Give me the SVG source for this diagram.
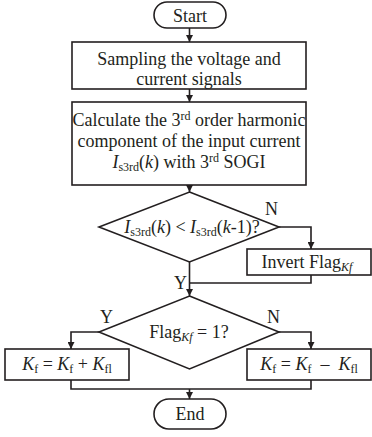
<svg xmlns="http://www.w3.org/2000/svg" width="372" height="437" viewBox="0 0 372 437" font-family="'Liberation Serif', 'Times New Roman', 'DejaVu Serif', serif">
<defs>
<style>
.s{fill:#fff;stroke:#231f20;stroke-width:1.6}
.c{fill:none;stroke:#231f20;stroke-width:1.6}
text{font-family:'Liberation Serif','Times New Roman','DejaVu Serif',serif;font-size:18px;fill:#231f20}
.m{text-anchor:middle}
.sub{font-size:12px}
.i{font-style:italic}
</style>
<marker id="a" viewBox="0 0 10 10" refX="10" refY="5" markerWidth="7" markerHeight="7" markerUnits="userSpaceOnUse" orient="auto"><path d="M0,0 L10,5 L0,10 z" fill="#231f20"/></marker>
</defs>
<rect width="372" height="437" fill="#fff"/>
<g id="connectors">
<path class="c" d="M189.5,28 V42" marker-end="url(#a)"/>
<path class="c" d="M189.5,89 V102" marker-end="url(#a)"/>
<path class="c" d="M189.5,185 V192" marker-end="url(#a)"/>
<path class="c" d="M279,227 H311 V249" marker-end="url(#a)"/>
<path class="c" d="M311,275 V283 H189.5"/>
<path class="c" d="M189.5,262 V296" marker-end="url(#a)"/>
<path class="c" d="M99,332 H71 V349" marker-end="url(#a)"/>
<path class="c" d="M279,332 H311 V349" marker-end="url(#a)"/>
<path class="c" d="M71,380 V389 H311 V380"/>
<path class="c" d="M189.5,389 V399" marker-end="url(#a)"/>
<text x="265" y="215">N</text>
<text x="174" y="289">Y</text>
<text x="100" y="323">Y</text>
<text x="267" y="323">N</text>
</g>
<g id="start">
<rect class="s" x="154" y="2" width="72" height="26" rx="13"/>
<text class="m" x="190" y="22">Start</text>
</g>
<g id="sampling">
<rect class="s" x="72" y="42" width="234" height="47"/>
<text class="m" x="189" y="65">Sampling the voltage and</text>
<text class="m" x="189" y="85">current signals</text>
</g>
<g id="calculate">
<rect class="s" x="72" y="102" width="234" height="83"/>
<text class="m" x="189" y="126">Calculate the 3<tspan class="sub" dy="-6">rd</tspan><tspan dy="6"> order harmonic</tspan></text>
<text class="m" x="189" y="147">component of the input current</text>
<text class="m" x="189" y="168"><tspan class="i">I</tspan><tspan class="sub" dy="3">s3rd</tspan><tspan dy="-3">(</tspan><tspan class="i">k</tspan>) with 3<tspan class="sub" dy="-6">rd</tspan><tspan dy="6"> SOGI</tspan></text>
</g>
<g id="decision1">
<polygon class="s" points="189.5,192 279,227 189.5,262 99,227"/>
<text class="m" x="192" y="233"><tspan class="i">I</tspan><tspan class="sub" dy="3">s3rd</tspan><tspan dy="-3">(</tspan><tspan class="i">k</tspan>) &lt; <tspan class="i">I</tspan><tspan class="sub" dy="3">s3rd</tspan><tspan dy="-3">(</tspan><tspan class="i">k</tspan>-1)?</text>
</g>
<g id="invert">
<rect class="s" x="247" y="249" width="124" height="26"/>
<text class="m" x="307" y="268">Invert Flag<tspan class="sub i" dy="3">Kf</tspan></text>
</g>
<g id="decision2">
<polygon class="s" points="189.5,296 279,332 189.5,369 99,332"/>
<text class="m" x="189" y="338">Flag<tspan class="sub i" dy="3">Kf</tspan><tspan dy="-3"> = 1?</tspan></text>
</g>
<g id="plus">
<rect class="s" x="5" y="349" width="124" height="31"/>
<text class="m" x="67" y="370"><tspan class="i">K</tspan><tspan class="sub" dy="3">f</tspan><tspan dy="-3"> = </tspan><tspan class="i">K</tspan><tspan class="sub" dy="3">f</tspan><tspan dy="-3"> + </tspan><tspan class="i">K</tspan><tspan class="sub" dy="3">fl</tspan></text>
</g>
<g id="minus">
<rect class="s" x="247" y="349" width="124" height="31"/>
<text class="m" x="309" y="370" xml:space="preserve"><tspan class="i">K</tspan><tspan class="sub" dy="3">f</tspan><tspan dy="-3"> = </tspan><tspan class="i">K</tspan><tspan class="sub" dy="3">f</tspan><tspan dy="-3">  –  </tspan><tspan class="i">K</tspan><tspan class="sub" dy="3">fl</tspan></text>
</g>
<g id="end">
<rect class="s" x="154" y="399" width="72" height="30" rx="15"/>
<text class="m" x="190" y="420">End</text>
</g>
</svg>
